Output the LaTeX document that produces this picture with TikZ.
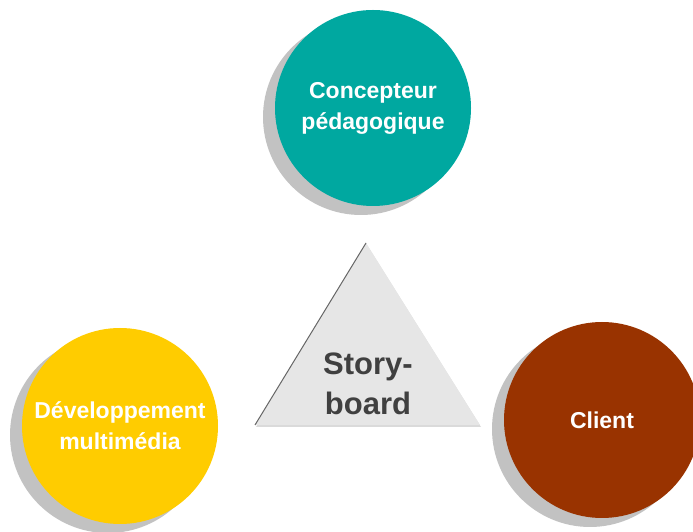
\documentclass[tikz,border=0pt]{standalone}
\usepackage{fontspec}
\setmainfont{Liberation Sans}
\usepackage{tikz}
\usetikzlibrary{shadows, calc}

\definecolor{tealrole}{HTML}{00A8A0}
\definecolor{yellowrole}{HTML}{FFCC00}
\definecolor{brownrole}{HTML}{993300}
\definecolor{shadowgray}{HTML}{C2C2C2}
\definecolor{trifill}{HTML}{E6E6E6}
\definecolor{tritext}{HTML}{404040}

\tikzset{
  role/.style={circle, minimum size=196pt, inner sep=0pt, align=center,
    text=white, font=\fontsize{23pt}{31pt}\selectfont\bfseries,
    drop shadow={shadow xshift=-12pt, shadow yshift=-9pt, fill=shadowgray, opacity=1}},
}

\begin{document}
\begin{tikzpicture}[x=1pt, y=1pt]

        \useasboundingbox (0,0) rectangle (693,532);

        % Storyboard triangle
        \coordinate (apex) at (366,289);
        \coordinate (baseL) at (255,107);
        \coordinate (baseR) at (480,107);
        \fill[shadowgray!60] ($(baseL)+(1,-2)$) -- ($(baseR)+(1,-2)$) -- ($(apex)+(1,-2)$) -- cycle;
        \fill[trifill] (apex) -- (baseL) -- (baseR) -- cycle;
        \draw[gray!80!black, line width=1pt] (apex) -- (baseL);
        \node[text=tritext, align=center, font=\fontsize{31pt}{40pt}\selectfont\bfseries] (story) at (368,148) {Story-\\board};

        % Concepteur
        \node[role, fill=tealrole] (concepteur) at (373,424) {Concepteur\\p\'edagogique};

        % Developpement
        \node[role, fill=yellowrole] (dev) at (120,106) {D\'eveloppement\\multim\'edia};

        % Client
        \node[role, fill=brownrole] (client) at (602,112) {Client};

    \end{tikzpicture}
\end{document}
